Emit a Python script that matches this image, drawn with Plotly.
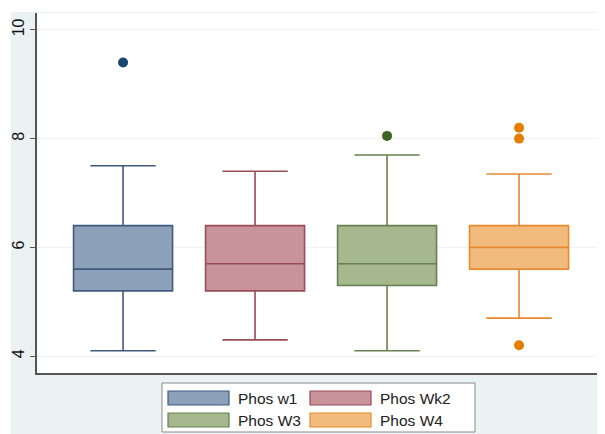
import plotly.graph_objects as go

# ---- data ----
series = ["Phos w1", "Phos Wk2", "Phos W3", "Phos W4"]
positions = [1, 2, 3, 4]
q1 = [5.2, 5.2, 5.3, 5.6]
median = [5.6, 5.7, 5.7, 6.0]
q3 = [6.4, 6.4, 6.4, 6.4]
lower_whisker = [4.1, 4.3, 4.1, 4.7]
upper_whisker = [7.5, 7.4, 7.7, 7.35]
outliers = [[9.4], [], [8.05], [8.2, 8.0, 4.2]]
y_ticks = [4, 6, 8, 10]

fills = ["#8DA2BA", "#C8939A", "#A5B88E", "#F2BB7E"]
edges = ["#3E5B7E", "#9A4C56", "#66814F", "#E8892E"]
dots = ["#1A476F", "#90353B", "#3F6322", "#E37E00"]

fig = go.Figure()
for i, name in enumerate(series):
    fig.add_trace(go.Box(
        x=[positions[i]], q1=[q1[i]], median=[median[i]], q3=[q3[i]],
        lowerfence=[lower_whisker[i]], upperfence=[upper_whisker[i]],
        name=name, width=0.75, whiskerwidth=0.66,
        fillcolor=fills[i], line=dict(color=edges[i], width=1.6),
        showlegend=False, hoverinfo="skip",
    ))
    if outliers[i]:
        fig.add_trace(go.Scatter(
            x=[positions[i]] * len(outliers[i]), y=outliers[i], mode="markers",
            marker=dict(color=dots[i], size=10), showlegend=False,
        ))

bg = "#EAF2F3"
PW, PH = 566, 360  # plot area size in px


# page-pixel helpers (page has 8px body margin; plot area at page x 37..603, y 13..373)
def px(xp):
    return (xp - 37) / PW


def py(yp):
    return (373 - yp) / PH


shapes = [
    dict(type="rect", xref="paper", yref="paper", x0=px(8), x1=px(11), y0=py(434), y1=py(8),
         fillcolor="white", line=dict(width=0), layer="below"),
    dict(type="rect", xref="paper", yref="paper", x0=px(8), x1=px(605), y0=py(12), y1=py(8),
         fillcolor="white", line=dict(width=0), layer="below"),
]

shapes.append(dict(type="rect", xref="paper", yref="paper", x0=px(162), x1=px(475), y0=py(432), y1=py(383),
                   fillcolor="white", line=dict(color="#8A8A8A", width=1)))
annotations = []
leg_pos = [(168, 391), (310, 391), (168, 413), (310, 413)]
for i, name in enumerate(series):
    x0, y0 = leg_pos[i]
    shapes.append(dict(type="rect", xref="paper", yref="paper", x0=px(x0), x1=px(x0 + 61), y0=py(y0 + 14), y1=py(y0),
                       fillcolor=fills[i], line=dict(color=edges[i], width=1.2)))
    annotations.append(dict(xref="paper", yref="paper", x=px(x0 + 68), y=py(y0 + 7), text=name, showarrow=False,
                            xanchor="left", yanchor="middle",
                            font=dict(size=15.5, color="#222222", family="Liberation Sans, Arial")))

fig.update_layout(
    width=597, height=426,
    margin=dict(l=29, r=2, t=5, b=61),
    paper_bgcolor=bg, plot_bgcolor="white",
    shapes=shapes, annotations=annotations,
    showlegend=False,
    xaxis=dict(range=[0.348, 4.636], showticklabels=False, ticks="", showgrid=False, zeroline=False,
               showline=True, linecolor="#555555", linewidth=1.5, mirror=False),
    yaxis=dict(range=[3.69, 10.31], tickvals=y_ticks, ticktext=[str(t) for t in y_ticks], tickangle=-90,
               ticks="outside", ticklen=5, tickcolor="#555555", showgrid=True, gridcolor="#EEF2F3", gridwidth=1,
               zeroline=False, showline=True, linecolor="#555555", linewidth=1.5,
               tickfont=dict(size=16, color="#111111", family="Liberation Sans, Arial")),
    font=dict(family="Liberation Sans, Arial"),
)

fig.write_html("out.html")
